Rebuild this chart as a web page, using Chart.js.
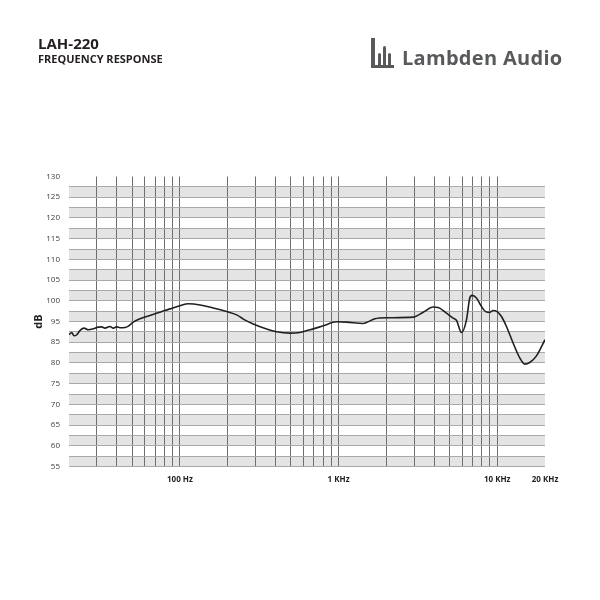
<!DOCTYPE html>
<html>
<head>
<meta charset="utf-8">
<title>LAH-220 Frequency Response</title>
<script src="https://cdn.jsdelivr.net/npm/chart.js@4.4.0/dist/chart.umd.min.js"></script>
<style>
  html, body { margin: 0; padding: 0; background: #fff; }
  #wrap { position: relative; width: 600px; height: 600px; font-family: "Open Sans", sans-serif; }
  #chart { position: absolute; left: 0; top: 0; }
  .t1 { position: absolute; left: 38px; top: 36px; font-size: 15px; line-height: 15px; font-weight: 700; color: #231f20; }
  .t2 { position: absolute; left: 38px; top: 53px; font-size: 11px; line-height: 11px; font-weight: 700; color: #231f20; }
  .logo { position: absolute; left: 402px; top: 47.5px; font-size: 20px; line-height: 20px; font-weight: 700; color: #58595b; letter-spacing: 0.3px; }
  .bar { position: absolute; background: #58595b; }
</style>
</head>
<body>
<div id="wrap">
  <canvas id="chart" width="600" height="600"></canvas>
  <div class="t1">LAH-220</div>
  <div class="t2">FREQUENCY RESPONSE</div>
  <div class="bar" style="left:371px;top:38px;width:3.5px;height:29px"></div>
  <div class="bar" style="left:371px;top:64.5px;width:23px;height:3px"></div>
  <div class="bar" style="left:378px;top:53px;width:3.3px;height:12px;border-radius:1.6px 1.6px 0 0"></div>
  <div class="bar" style="left:383px;top:46px;width:3.3px;height:19px;border-radius:1.6px 1.6px 0 0"></div>
  <div class="bar" style="left:388px;top:53px;width:3.3px;height:12px;border-radius:1.6px 1.6px 0 0"></div>
  <div class="logo">Lambden Audio</div>
</div>
<script>
  // frequency (Hz) and level (dB, as read against the printed axis labels)
  const freqs = [20, 20.8, 21.5, 22.4, 23.5, 24.9, 26.5, 28.5, 30.6, 32.1, 33.7, 36.3, 38, 40, 41.9, 45.1, 47.3,
    50.8, 56, 64.7, 74.8, 86.5, 100, 113, 134, 162, 197, 228, 251, 290, 352, 407, 493, 570, 660, 800, 971,
    1122, 1429, 1500, 1694, 2007, 2951, 3415, 3948, 4240, 4790, 5270, 5540, 5953, 6400, 6714, 6942, 7398,
    7956, 8555, 8978, 9419, 9980, 10636, 11430, 12590, 13870, 14910, 16030, 17670, 20000];
  const levels = [88.6, 89.7, 88.1, 88.6, 90.7, 91.8, 91.0, 91.5, 92.3, 92.4, 91.8, 92.6, 91.8, 92.4, 92.0, 92.1, 92.8,
    94.7, 95.65, 96.45, 97.25, 98.05, 98.8, 99.27, 99.0, 98.24, 97.4, 96.6, 95.58, 93.75, 91.33, 90.03, 89.4, 89.7, 91.0, 92.9, 94.85,
    94.7, 94.0, 94.5, 95.65, 95.9, 96.05, 97.25, 98.5, 98.4, 97.0, 95.8, 95.24, 89.7, 95.4, 100.65, 101.3, 100.65,
    98.6, 97.27, 97.2, 97.65, 97.4, 96.2, 92.6, 84.8, 81.2, 79.7, 80.1, 81.7, 86.2];

  // printed y labels (the original skips 90) and x grid / labels
  const yTickLabels = [55, 60, 65, 70, 75, 80, 85, 95, 100, 105, 110, 115, 120, 125, 130];
  const xGridFreqs = [20, 30, 40, 50, 60, 70, 80, 90, 100, 200, 300, 400, 500, 600, 700, 800, 900,
    1000, 2000, 3000, 4000, 5000, 6000, 7000, 8000, 9000, 10000, 20000];
  const xTickFreqs = [100, 1000, 10000, 20000];
  const xTickLabels = ['100 Hz', '1 KHz', '10 KHz', '20 KHz'];

  // dB -> position on the evenly spaced printed label grid
  function toPos(db) {
    for (let i = 0; i < yTickLabels.length - 1; i++) {
      const a = yTickLabels[i], b = yTickLabels[i + 1];
      if (db <= b || i === yTickLabels.length - 2) return i + (db - a) / (b - a);
    }
  }

  const points = freqs.map((f, i) => ({ x: f, y: toPos(levels[i]) }));

  const bands = {
    id: 'bands',
    beforeDraw(chart) {
      const c = chart.ctx, a = chart.chartArea, y = chart.scales.y;
      c.save();
      c.fillStyle = '#e4e4e5';
      for (let i = 0; i < yTickLabels.length - 1; i++) {
        const y0 = y.getPixelForValue(i + 0.5), y1 = y.getPixelForValue(i);
        c.fillRect(a.left, y0, a.right - a.left, y1 - y0);
      }
      c.restore();
    }
  };

  new Chart(document.getElementById('chart'), {
    type: 'line',
    data: {
      datasets: [{
        data: points,
        borderColor: '#231f20',
        borderWidth: 1.6,
        pointRadius: 0,
        cubicInterpolationMode: 'monotone',
        fill: false
      }]
    },
    plugins: [bands],
    options: {
      responsive: false,
      animation: false,
      layout: { padding: { left: 25, right: 55, top: 176.5, bottom: 93.5 } },
      plugins: { legend: { display: false }, tooltip: { enabled: false } },
      scales: {
        x: {
          type: 'logarithmic',
          min: 20,
          max: 20000,
          afterBuildTicks(scale) { scale.ticks = xGridFreqs.map(v => ({ value: v })); },
          afterFit(scale) { scale.height = 40; },
          border: { display: false },
          grid: {
            drawTicks: false,
            lineWidth: 1,
            color: ctx => (ctx.tick && (ctx.tick.value === 20 || ctx.tick.value === 20000)) ? 'rgba(0,0,0,0)' : '#6d6e71'
          },
          ticks: {
            autoSkip: false,
            maxRotation: 0,
            padding: 8,
            color: '#231f20',
            font: { family: 'Open Sans', size: 8, weight: 'bold' },
            callback(value) {
              const k = xTickFreqs.indexOf(value);
              return k >= 0 ? xTickLabels[k] : '';
            }
          }
        },
        y: {
          type: 'linear',
          min: 0,
          max: yTickLabels.length - 1,
          afterFit(scale) { scale.width = 44; },
          border: { display: false },
          title: {
            display: true,
            text: 'dB',
            color: '#231f20',
            font: { family: 'Open Sans', size: 11, weight: 'bold' },
            padding: { top: 7, bottom: 0 }
          },
          grid: {
            drawTicks: false,
            lineWidth: 1,
            color: ctx => (ctx.tick && ctx.tick.value === yTickLabels.length - 1) ? 'rgba(0,0,0,0)' : '#a7a9ac'
          },
          ticks: {
            stepSize: 0.5,
            autoSkip: false,
            padding: 9,
            color: '#414042',
            font: { family: 'Open Sans', size: 8 },
            callback(value) {
              return Number.isInteger(value) ? String(yTickLabels[value]) : '';
            }
          }
        }
      }
    }
  });
</script>
</body>
</html>
